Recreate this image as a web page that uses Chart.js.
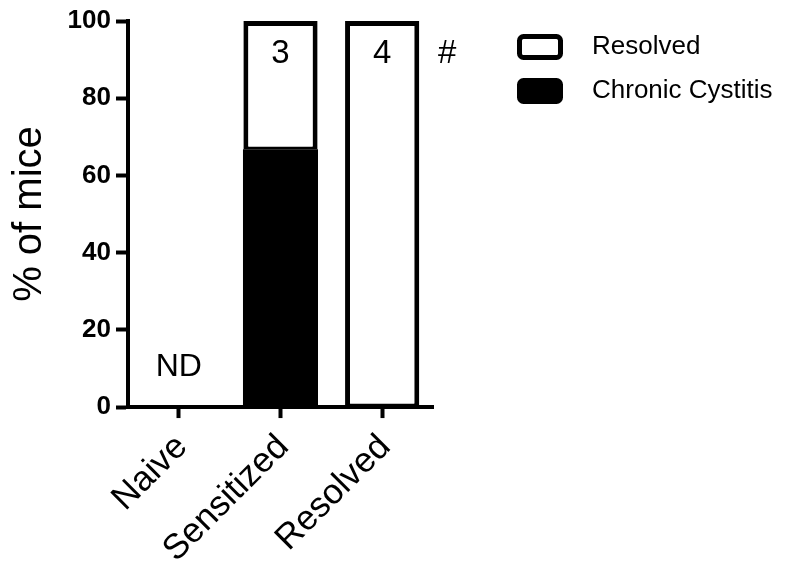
<!DOCTYPE html>
<html>
<head>
<meta charset="utf-8">
<script src="https://cdn.jsdelivr.net/npm/chart.js@4.4.1/dist/chart.umd.min.js"></script>
<style>
  html, body { margin: 0; padding: 0; background: #fff; }
</style>
</head>
<body>
<canvas id="chart" width="812" height="565"></canvas>
<script>
// data (percent of mice per group)
const groups = ['Naive', 'Sensitized', 'Resolved'];
const chronicPct = [null, 66.7, 0];
const resolvedPct = [null, 33.3, 100];
const groupNotes = ['ND', '3', '4'];
const sigMark = '#';
const seriesNames = ['Chronic Cystitis', 'Resolved'];

const FONT = '"Liberation Sans", Arial, sans-serif';
Chart.defaults.font.family = FONT;
Chart.defaults.color = '#000';

// legend swatches: rounded boxes with some room on the right
function swatch(fill) {
  const c = document.createElement('canvas');
  c.width = 62;
  c.height = 26;
  const g = c.getContext('2d');
  g.beginPath();
  g.roundRect(2.5, 2.5, 41, 21, 4);
  g.fillStyle = fill;
  g.fill();
  g.lineWidth = 5;
  g.strokeStyle = '#000';
  g.stroke();
  return c;
}
const swatches = [swatch('#000'), swatch('#fff')];

// keep the legend to the far right, away from the plot
const legendPlace = {
  id: 'legendPlace',
  beforeInit(chart) {
    const fit = chart.legend.fit;
    chart.legend.fit = function () {
      fit.call(this);
      this.width = 379;
    };
  },
  afterLayout(chart) {
    chart.legend.left = 499;
    chart.legend.top = 16;
  }
};

// n per group, ND and significance mark
const notes = {
  id: 'notes',
  afterDatasetsDraw(chart) {
    const { ctx, scales: { x, y } } = chart;
    ctx.save();
    ctx.fillStyle = '#000';
    ctx.textAlign = 'center';
    ctx.textBaseline = 'middle';
    groupNotes.forEach((t, i) => {
      const nd = chronicPct[i] === null;
      ctx.font = (nd ? 32 : 33) + 'px ' + FONT;
      ctx.fillText(t, x.getPixelForValue(i), y.getPixelForValue(nd ? 10.3 : 91.5));
    });
    ctx.font = '33px ' + FONT;
    ctx.fillText(sigMark, x.getPixelForValue(2) + 65, y.getPixelForValue(91.5));
    ctx.restore();
  }
};

new Chart(document.getElementById('chart'), {
  type: 'bar',
  data: {
    labels: groups,
    datasets: [
      {
        label: seriesNames[0],
        data: chronicPct,
        backgroundColor: '#000',
        borderWidth: 0,
        inflateAmount: 0.4,
      },
      {
        label: seriesNames[1],
        data: resolvedPct,
        backgroundColor: '#fff',
        borderColor: '#000',
        borderWidth: { top: 5, left: 5, right: 5, bottom: 3 },
        borderSkipped: false,
      },
    ],
  },
  options: {
    responsive: false,
    animation: false,
    layout: { padding: { left: 4, top: 21, right: 0, bottom: -14 } },
    datasets: {
      bar: { categoryPercentage: 1, barPercentage: 0.73 },
    },
    scales: {
      x: {
        stacked: true,
        grid: { display: true, drawOnChartArea: false, offset: false, tickLength: 11, tickWidth: 4, tickColor: '#000' },
        border: { display: true, width: 4, color: '#000' },
        ticks: { minRotation: 45, maxRotation: 45, autoSkip: false, padding: 11, labelOffset: 3, color: '#000', font: { size: 35, lineHeight: 1 } },
      },
      y: {
        stacked: true,
        min: 0,
        max: 100,
        grid: { display: true, drawOnChartArea: false, tickLength: 12, tickWidth: 4, tickColor: '#000' },
        border: { display: true, width: 4, color: '#000' },
        ticks: { stepSize: 20, padding: 5, color: '#000', font: { size: 26, weight: 'bold' } },
        title: { display: true, text: '% of mice', color: '#000', font: { size: 40 }, padding: { top: 2, bottom: 8.6 } },
      },
    },
    plugins: {
      tooltip: { enabled: false },
      legend: {
        position: 'right',
        align: 'start',
        reverse: true,
        labels: {
          color: '#000',
          font: { size: 26 },
          usePointStyle: true,
          pointStyleWidth: 62,
          boxHeight: 26,
          padding: 18,
          generateLabels(chart) {
            const items = Chart.defaults.plugins.legend.labels.generateLabels(chart);
            items.forEach(it => { it.pointStyle = swatches[it.datasetIndex]; });
            return items;
          },
        },
      },
    },
  },
  plugins: [legendPlace, notes],
});
</script>
</body>
</html>
